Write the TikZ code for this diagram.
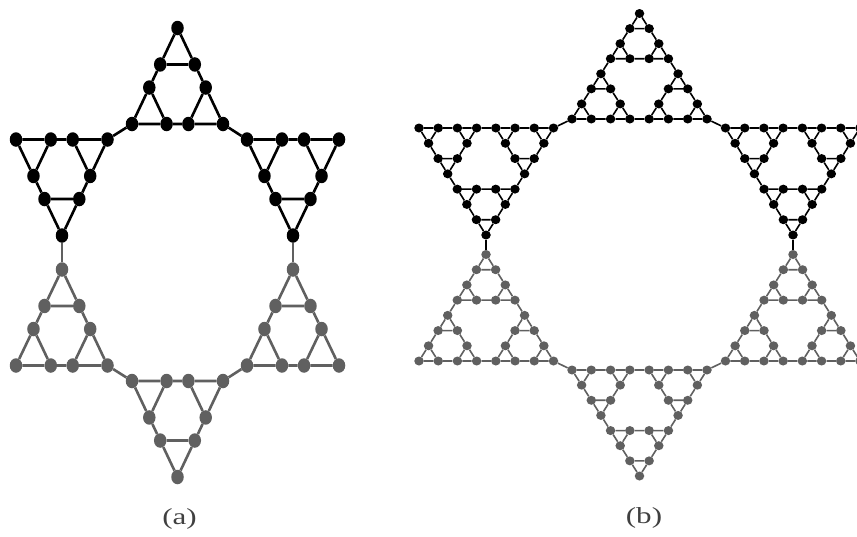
\documentclass[tikz,border=0pt]{standalone}
\usepackage{fontspec}
\setmainfont{Liberation Serif}
\usetikzlibrary{calc,shapes.geometric}
\definecolor{gk}{HTML}{000000}
\definecolor{gg}{HTML}{606060}
\tikzset{
  dotak/.style={ellipse,inner sep=0pt,minimum width=12.5pt,minimum height=14.5pt,fill=gk,draw=none},
  dotag/.style={ellipse,inner sep=0pt,minimum width=12.5pt,minimum height=14.5pt,fill=gg,draw=none},
  dotbk/.style={ellipse,inner sep=0pt,minimum width=9.5pt,minimum height=9pt,fill=gk,draw=none},
  dotbg/.style={ellipse,inner sep=0pt,minimum width=9.5pt,minimum height=9pt,fill=gg,draw=none},
  edgeak/.style={draw=gk,line width=2.6pt},
  edgeag/.style={draw=gg,line width=2.6pt},
  edgebk/.style={draw=gk,line width=1.6pt},
  edgebg/.style={draw=gg,line width=1.6pt},
  lbl/.style={inner sep=0pt,font=\fontsize{23}{23}\selectfont,text=black!75}
}
% a K3 on three named coordinates
\newcommand\kthree[4]{%
  \node[dot#4] (n#1) at (#1) {};
  \node[dot#4] (n#2) at (#2) {};
  \node[dot#4] (n#3) at (#3) {};
  \draw[edge#4] (n#1) -- (n#2) (n#2) -- (n#3) (n#3) -- (n#1);
}
% Sierpinski graph S(2,3): corners #1 #2 #3, ratio #4, style #5
\newcommand\sgtwo[5]{%
  \coordinate (#1u) at ($(#1)!#4!(#2)$);
  \coordinate (#1v) at ($(#1)!#4!(#3)$);
  \coordinate (#2u) at ($(#2)!#4!(#1)$);
  \coordinate (#2v) at ($(#2)!#4!(#3)$);
  \coordinate (#3u) at ($(#3)!#4!(#1)$);
  \coordinate (#3v) at ($(#3)!#4!(#2)$);
  \kthree{#1}{#1u}{#1v}{#5}
  \kthree{#2u}{#2}{#2v}{#5}
  \kthree{#3u}{#3v}{#3}{#5}
  \draw[edge#5] (n#1u) -- (n#2u) (n#1v) -- (n#3u) (n#2v) -- (n#3v);
}
% Sierpinski graph S(3,3), evenly spaced
\newcommand\sgthree[4]{%
  \coordinate (#1U) at ($(#1)!0.428571!(#2)$);
  \coordinate (#1V) at ($(#1)!0.428571!(#3)$);
  \coordinate (#2U) at ($(#2)!0.428571!(#1)$);
  \coordinate (#2V) at ($(#2)!0.428571!(#3)$);
  \coordinate (#3U) at ($(#3)!0.428571!(#1)$);
  \coordinate (#3V) at ($(#3)!0.428571!(#2)$);
  \sgtwo{#1}{#1U}{#1V}{0.333333}{#4}
  \sgtwo{#2U}{#2}{#2V}{0.333333}{#4}
  \sgtwo{#3U}{#3V}{#3}{0.333333}{#4}
  \draw[edge#4] (n#1U) -- (n#2U) (n#1V) -- (n#3U) (n#2V) -- (n#3V);
}
\begin{document}
\begin{tikzpicture}[x=1pt,y=-1pt]
\useasboundingbox[fill=white] (0,0) rectangle (857,536);
% ---------- (a) ----------
\coordinate (aTA) at (177.5,28);  \coordinate (aTB) at (132,124);   \coordinate (aTC) at (223,124);
\coordinate (aLA) at (62,235.5);  \coordinate (aLB) at (16,139.5);  \coordinate (aLC) at (107.5,139.5);
\coordinate (aRA) at (293,235.5); \coordinate (aRB) at (247,139.5); \coordinate (aRC) at (339,139.5);
\coordinate (aMA) at (62,269.5);  \coordinate (aMB) at (16,365.5);  \coordinate (aMC) at (107.5,365.5);
\coordinate (aDA) at (177.5,477); \coordinate (aDB) at (132,381);   \coordinate (aDC) at (223,381);
\coordinate (aNA) at (293,269.5); \coordinate (aNB) at (247,365.5); \coordinate (aNC) at (339,365.5);
\sgtwo{aTA}{aTB}{aTC}{0.38}{ak}
\sgtwo{aLA}{aLB}{aLC}{0.38}{ak}
\sgtwo{aRA}{aRB}{aRC}{0.38}{ak}
\sgtwo{aMA}{aMB}{aMC}{0.38}{ag}
\sgtwo{aDA}{aDB}{aDC}{0.38}{ag}
\sgtwo{aNA}{aNB}{aNC}{0.38}{ag}
\draw[edgeak] (naTB) -- (naLC) (naTC) -- (naRB);
\draw[edgeag] (naMC) -- (naDB) (naDC) -- (naNB);
\draw[edgeag,line width=2pt] (naLA) -- (naMA) (naRA) -- (naNA);
% ---------- (b) ----------
\coordinate (bTA) at (639.5,13.5); \coordinate (bTB) at (572,119);   \coordinate (bTC) at (707,119);
\coordinate (bLA) at (486,235);    \coordinate (bLB) at (419,128);   \coordinate (bLC) at (553.5,128);
\coordinate (bRA) at (793,235);    \coordinate (bRB) at (725.5,128); \coordinate (bRC) at (860,128);
\coordinate (bMA) at (486,254.5);  \coordinate (bMB) at (419,361);   \coordinate (bMC) at (553.5,361);
\coordinate (bDA) at (639.5,476);  \coordinate (bDB) at (572,370);   \coordinate (bDC) at (707,370);
\coordinate (bNA) at (793,254.5);  \coordinate (bNB) at (725.5,361); \coordinate (bNC) at (860,361);
\sgthree{bTA}{bTB}{bTC}{bk}
\sgthree{bLA}{bLB}{bLC}{bk}
\sgthree{bRA}{bRB}{bRC}{bk}
\sgthree{bMA}{bMB}{bMC}{bg}
\sgthree{bDA}{bDB}{bDC}{bg}
\sgthree{bNA}{bNB}{bNC}{bg}
\draw[edgebk] (nbTB) -- (nbLC) (nbTC) -- (nbRB);
\draw[edgebg] (nbMC) -- (nbDB) (nbDC) -- (nbNB);
\draw[edgebk] (nbLA) -- (nbMA) (nbRA) -- (nbNA);
% ---------- labels ----------
\node[lbl] (la) at (179.5,519) {\scalebox{1.35}[1]{(a)}};
\node[lbl] (lb) at (644,518) {\scalebox{1.35}[1]{(b)}};
\end{tikzpicture}
\end{document}
